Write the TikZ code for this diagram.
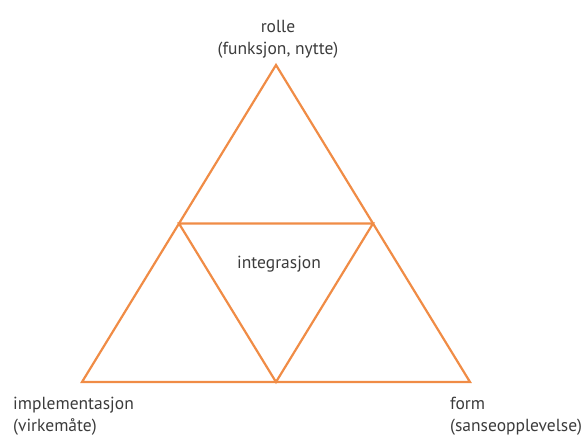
\documentclass[tikz,border=0pt]{standalone}
\usepackage{fontspec}
\setmainfont{PT Sans}
\usetikzlibrary{positioning, calc}
\definecolor{trekant}{RGB}{240,140,70}
\definecolor{tekst}{RGB}{60,60,60}

\begin{document}
\begin{tikzpicture}[x=1pt, y=1pt]
\begin{scope}[every node/.style={font=\fontsize{17.5}{22}\selectfont, text=tekst, inner sep=0pt}]

\useasboundingbox (0,0) rectangle (586,436);

% hjoerner og midtpunkter
\coordinate (topp)  at (276,371);
\coordinate (vnede) at (82,54);
\coordinate (hnede) at (470,54);
\coordinate (vmidt) at ($(topp)!0.5!(vnede)$);
\coordinate (hmidt) at ($(topp)!0.5!(hnede)$);
\coordinate (bmidt) at ($(vnede)!0.5!(hnede)$);

\draw [trekant, line width=2.2pt, line join=miter] (topp) -- (vnede) -- (hnede) -- cycle;
\draw [trekant, line width=2.2pt, line join=miter] (vmidt) -- (hmidt) -- (bmidt) -- cycle;

\node (rolle) [align=center, anchor=base] at (278,381) {rolle\\(funksjon, nytte)};
\node (integrasjon) [anchor=base] at (279,167) {integrasjon};
\node (implementasjon) [align=left, anchor=base west] at (13,4) {implementasjon\\(virkemåte)};
\node (form) [align=left, anchor=base west] at (450,4) {form\\(sanseopplevelse)};
\end{scope}
\end{tikzpicture}
\end{document}
